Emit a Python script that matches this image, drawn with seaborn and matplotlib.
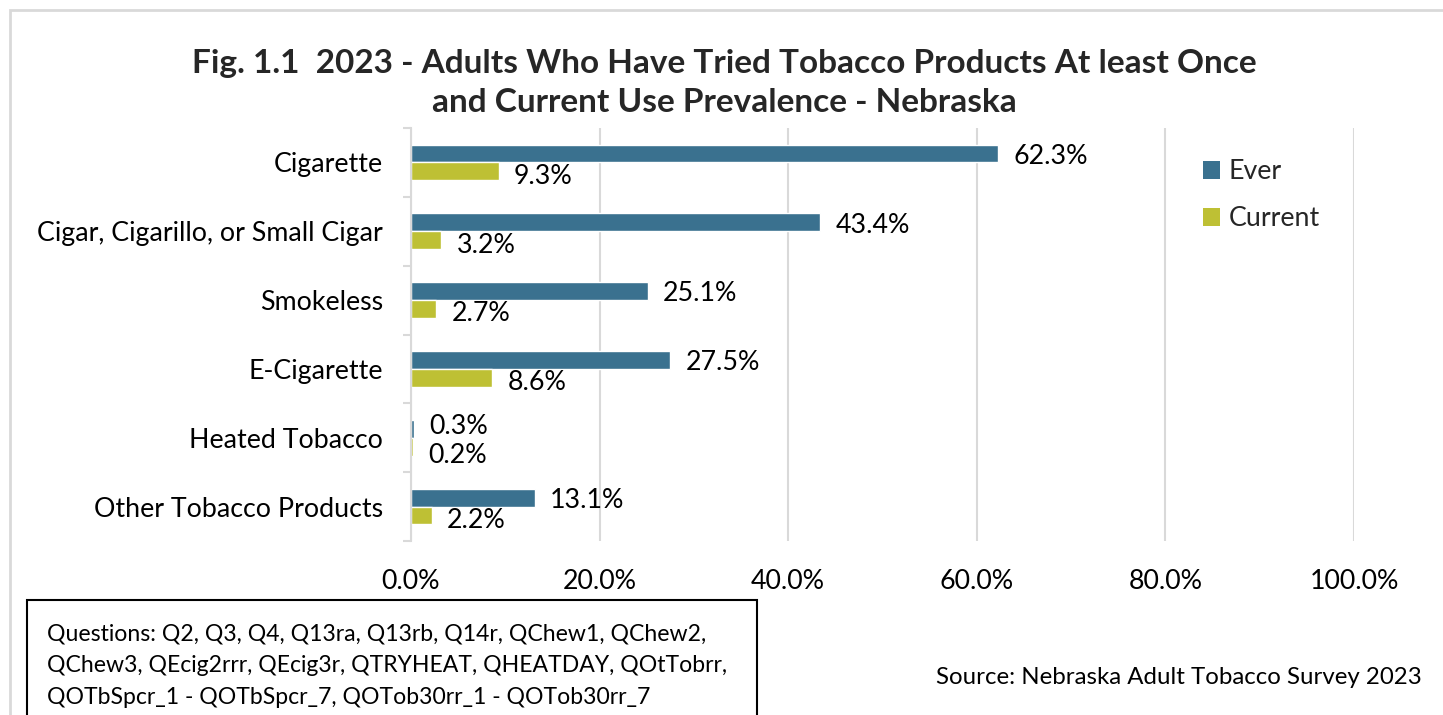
import matplotlib
matplotlib.use("Agg")
import matplotlib.pyplot as plt
from matplotlib.patches import Rectangle, Patch
from matplotlib.ticker import FuncFormatter, FixedLocator
import numpy as np
import pandas as pd
import seaborn as sns

# Survey results (percent of adults)
categories = ["Cigarette", "Cigar, Cigarillo, or Small Cigar", "Smokeless",
              "E-Cigarette", "Heated Tobacco", "Other Tobacco Products"]
ever = [62.3, 43.4, 25.1, 27.5, 0.3, 13.1]
current = [9.3, 3.2, 2.7, 8.6, 0.2, 2.2]
series = ["Ever", "Current"]
colors = ["#3A718F", "#BEC034"]
x_ticks = [0, 20, 40, 60, 80, 100]

title = ("Fig. 1.1  2023 - Adults Who Have Tried Tobacco Products At least Once\n"
         "and Current Use Prevalence - Nebraska")
questions = ["Questions: Q2, Q3, Q4, Q13ra, Q13rb, Q14r, QChew1, QChew2,",
             "QChew3, QEcig2rrr, QEcig3r, QTRYHEAT, QHEATDAY, QOtTobrr,",
             "QOTbSpcr_1 - QOTbSpcr_7, QOTob30rr_1 - QOTob30rr_7"]
source = "Source: Nebraska Adult Tobacco Survey 2023"

df = pd.DataFrame({
    "category": categories * 2,
    "value": ever + current,
    "series": [series[0]] * len(categories) + [series[1]] * len(categories),
})

sns.set_theme(style="white")
plt.rcParams["font.family"] = ["Lato", "DejaVu Sans"]

LABEL_SIZE = 19.3
NOTE_SIZE = 16.6

W, H = 1443, 715
fig = plt.figure(figsize=(W / 100, H / 100), dpi=100)
ax = fig.add_axes([411 / W, 1 - 541 / H, (1354 - 411) / W, (541 - 128) / H])

sns.barplot(data=df, x="value", y="category", hue="series", orient="h",
            palette=colors, width=0.52, ax=ax, legend=False, saturation=1)

ax.set_xlim(0, 100)
ax.set_ylim(len(categories) - 0.5, -0.5)
ax.set_xlabel("")
ax.set_ylabel("")

# value labels; the two tiny "Heated Tobacco" labels are pulled apart
for k, cont in enumerate(ax.containers):
    anns = ax.bar_label(cont, labels=[f"{v:.1f}%" for v in cont.datavalues],
                        padding=11, fontsize=LABEL_SIZE, color="#000000")
    for cat, a in zip(categories, anns):
        if cat == "Heated Tobacco":
            dy = 1.5 if k == 0 else -6.0
        else:
            dy = -2.0 if k == 0 else -3.5
        a.xyann = (11, dy)

# gridlines and axis
ax.xaxis.set_major_locator(FixedLocator(x_ticks))
ax.xaxis.set_major_formatter(FuncFormatter(lambda v, p: f"{v:.1f}%"))
ax.grid(axis="x", color="#D9D9D9", linewidth=1.5)
ax.set_axisbelow(True)
for s in ["top", "right", "bottom"]:
    ax.spines[s].set_visible(False)
ax.spines["left"].set_color("#D9D9D9")
ax.spines["left"].set_linewidth(1.5)
ax.tick_params(axis="x", length=0, pad=20, labelsize=LABEL_SIZE,
               labelcolor="#000000")
ax.tick_params(axis="y", which="major", length=0, pad=20,
               labelsize=LABEL_SIZE, labelcolor="#000000")
ax.set_yticks(np.arange(-0.5, len(categories) + 0.5, 1), minor=True)
ax.tick_params(axis="y", which="minor", length=6, width=1.5, color="#D9D9D9",
               direction="out", left=True)

# legend
handles = [Patch(facecolor=c, edgecolor="none") for c in colors]
fig.legend(handles, series, loc="upper left",
           bbox_to_anchor=(1203 / W, 1 - 159 / H), frameon=False,
           fontsize=LABEL_SIZE, handlelength=0.65, handleheight=0.65,
           handletextpad=0.3, labelspacing=0.83, borderpad=0,
           borderaxespad=0)

fig.suptitle(title, x=724 / W, y=1 - 49 / H, fontsize=24, fontweight="bold",
             va="top", linespacing=1.42)

# outer chart border
fig.patches.append(Rectangle((10 / W, -0.1), 1.2, 1 - 10 / H + 0.1,
                             transform=fig.transFigure, fill=False,
                             edgecolor="#D9D9D9", linewidth=2))

# questions box
fig.patches.append(Rectangle((27 / W, -0.1), (757 - 27) / W, 1 - 600 / H + 0.1,
                             transform=fig.transFigure, fill=False,
                             edgecolor="#000000", linewidth=1.5))
for i, line in enumerate(questions):
    fig.text(47 / W, 1 - (634 + 32 * i) / H, line, fontsize=NOTE_SIZE,
             va="center", ha="left", color="#000000")

fig.text(1422 / W, 1 - 677 / H, source, fontsize=17.3, va="center",
         ha="right", color="#000000")

fig.savefig("out.png", dpi=100)
